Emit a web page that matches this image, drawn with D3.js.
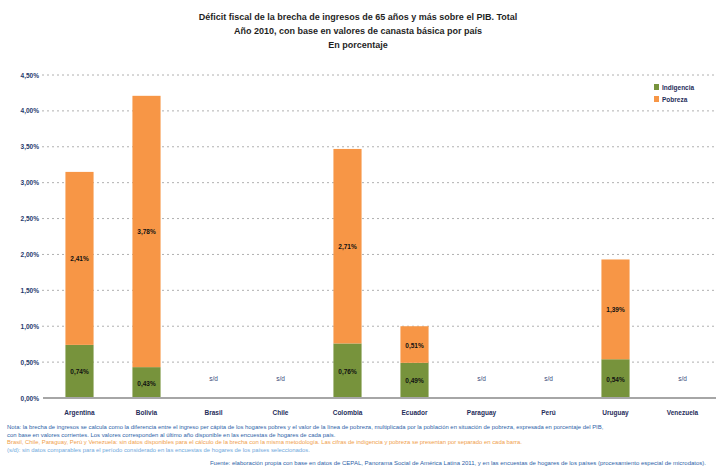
<!DOCTYPE html>
<html>
<head>
<meta charset="utf-8">
<style>
  body { margin: 0; background: #fff; }
  svg text { font-family: "Liberation Sans", Arial, sans-serif; }
  .grid line { stroke: #b0b0b0; stroke-dasharray: 2,3; }
</style>
</head>
<body>
<script src="https://cdn.jsdelivr.net/npm/d3@7"></script>
<script>
// datos
var paises = ["Argentina", "Bolivia", "Brasil", "Chile", "Colombia", "Ecuador", "Paraguay", "Perú", "Uruguay", "Venezuela"];
var indigencia = [0.74, 0.43, null, null, 0.76, 0.49, null, null, 0.54, null];
var pobreza = [2.41, 3.78, null, null, 2.71, 0.51, null, null, 1.39, null];
var series = ["Indigencia", "Pobreza"];
var ticks = [0, 0.5, 1, 1.5, 2, 2.5, 3, 3.5, 4, 4.5];

var W = 719, H = 472;
var colores = ["#77933c", "#f79646"];
var fmt = function(v) { return d3.format(".2f")(v).replace(".", ",") + "%"; };

var svg = d3.select("body").append("svg")
    .attr("width", W)
    .attr("height", H);

var margen = {left: 46, right: 3, top: 75, bottom: 74};

var x = d3.scaleBand()
    .domain(paises)
    .range([margen.left, W - margen.right])
    .paddingInner(0.58)
    .paddingOuter(0.29);

var y = d3.scaleLinear()
    .domain([0, 4.5])
    .range([H - margen.bottom, margen.top]);

// titulo
var titulo = ["Déficit fiscal de la brecha de ingresos de 65 años y más sobre el PIB. Total",
              "Año 2010, con base en valores de canasta básica por país",
              "En porcentaje"];
svg.append("g").selectAll("text")
    .data(titulo)
    .join("text")
    .attr("x", 358)
    .attr("y", (d, i) => 20 + i * 14)
    .attr("text-anchor", "middle")
    .attr("font-size", 9)
    .attr("font-weight", "bold")
    .attr("fill", "#1f1f1f")
    .text(d => d);

// grilla
svg.append("g")
    .attr("class", "grid")
    .selectAll("line")
    .data(ticks.slice(1))
    .join("line")
    .attr("x1", margen.left - 4)
    .attr("x2", W - margen.right)
    .attr("y1", d => y(d))
    .attr("y2", d => y(d));

// eje y
var ejeY = svg.append("g")
    .attr("transform", "translate(" + (margen.left - 3) + ",0)")
    .call(d3.axisLeft(y).tickValues(ticks).tickFormat(fmt).tickSize(0).tickPadding(4));
ejeY.select(".domain").remove();
ejeY.selectAll("text")
    .attr("font-size", 6.5)
    .attr("font-weight", "bold")
    .attr("fill", "#1f3a6e")
    .style("font-family", "'Liberation Sans', Arial, sans-serif");

// barras apiladas
var tabla = paises.map((p, i) => ({pais: p, Indigencia: indigencia[i] || 0, Pobreza: pobreza[i] || 0}));
var pila = d3.stack().keys(series)(tabla);

svg.append("g").selectAll("g")
    .data(pila)
    .join("g")
    .attr("fill", (d, i) => colores[i])
    .selectAll("rect")
    .data(d => d.filter(s => s[1] > s[0]))
    .join("rect")
    .attr("x", d => x(d.data.pais))
    .attr("width", x.bandwidth())
    .attr("y", d => y(d[1]))
    .attr("height", d => y(d[0]) - y(d[1]));

// etiquetas de valores
svg.append("g").selectAll("g")
    .data(pila)
    .join("g")
    .selectAll("text")
    .data(d => d.filter(s => s[1] > s[0]))
    .join("text")
    .attr("x", d => x(d.data.pais) + x.bandwidth() / 2)
    .attr("y", d => y((d[0] + d[1]) / 2) + 3)
    .attr("text-anchor", "middle")
    .attr("font-size", 6.5)
    .attr("font-weight", "bold")
    .attr("fill", "#111")
    .text(d => fmt(d[1] - d[0]));

// sin datos
svg.append("g").selectAll("text")
    .data(paises.filter((p, i) => indigencia[i] == null))
    .join("text")
    .attr("x", d => x(d) + x.bandwidth() / 2)
    .attr("y", y(0) - 17)
    .attr("text-anchor", "middle")
    .attr("font-size", 6.5)
    .attr("fill", "#3b4a7a")
    .text("s/d");

// linea base
svg.append("line")
    .attr("x1", margen.left - 3)
    .attr("x2", W - margen.right)
    .attr("y1", y(0))
    .attr("y2", y(0))
    .attr("stroke", "#a6a6a6")
    .attr("stroke-width", 2);

// eje x
var ejeX = svg.append("g")
    .attr("transform", "translate(0," + (y(0) + 12) + ")")
    .call(d3.axisBottom(x).tickSize(0).tickPadding(0));
ejeX.select(".domain").remove();
ejeX.selectAll("text")
    .attr("font-size", 6.5)
    .attr("font-weight", "bold")
    .attr("fill", "#1f2d5a")
    .style("font-family", "'Liberation Sans', Arial, sans-serif");

// leyenda
var ley = svg.append("g").attr("transform", "translate(654,84)");
ley.selectAll("rect")
    .data(series)
    .join("rect")
    .attr("x", 0)
    .attr("y", (d, i) => i * 12)
    .attr("width", 5)
    .attr("height", 6)
    .attr("fill", (d, i) => colores[i]);
ley.selectAll("text")
    .data(series)
    .join("text")
    .attr("x", 8)
    .attr("y", (d, i) => i * 12 + 6)
    .attr("font-size", 6.5)
    .attr("font-weight", "bold")
    .attr("fill", "#1f2d5a")
    .text(d => d);

// notas
var notas = [
  {t: "Nota: la brecha de ingresos se calcula como la diferencia entre el ingreso per cápita de los hogares pobres y el valor de la línea de pobreza, multiplicada por la población en situación de pobreza, expresada en porcentaje del PIB,", c: "#2e5fa8"},
  {t: "con base en valores corrientes. Los valores corresponden al último año disponible en las encuestas de hogares de cada país.", c: "#2e5fa8"},
  {t: "Brasil, Chile, Paraguay, Perú y Venezuela: sin datos disponibles para el cálculo de la brecha con la misma metodología. Las cifras de indigencia y pobreza se presentan por separado en cada barra.", c: "#f0a04b"},
  {t: "(s/d): sin datos comparables para el período considerado en las encuestas de hogares de los países seleccionados.", c: "#6fa8dc"}
];
svg.append("g").selectAll("text")
    .data(notas)
    .join("text")
    .attr("x", 7)
    .attr("y", (d, i) => 429 + i * 7.5)
    .attr("font-size", 5.9)
    .attr("fill", d => d.c)
    .text(d => d.t);

svg.append("text")
    .attr("x", 706)
    .attr("y", 465)
    .attr("text-anchor", "end")
    .attr("font-size", 6)
    .attr("fill", "#2e5fa8")
    .text("Fuente: elaboración propia con base en datos de CEPAL, Panorama Social de América Latina 2011, y en las encuestas de hogares de los países (procesamiento especial de microdatos).");
</script>
</body>
</html>
